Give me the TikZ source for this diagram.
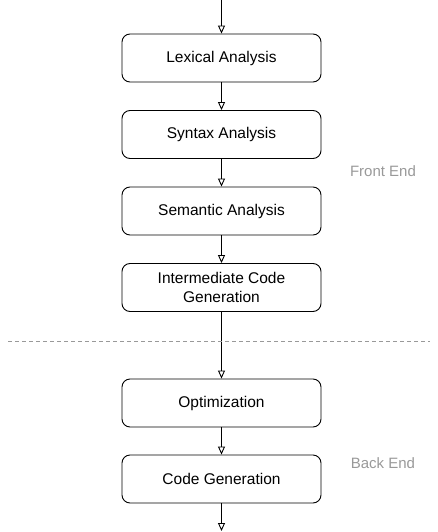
\documentclass[tikz,border=0pt]{standalone}
\usepackage{fontspec}
\setmainfont{Liberation Sans}
\usetikzlibrary{arrows.meta}
\begin{document}
\begin{tikzpicture}[x=1pt,y=-1pt,
  stage/.style={draw=black, line width=0.9pt, rounded corners=8pt, minimum width=199pt, minimum height=48pt, align=center, font=\fontsize{15.5}{19}\selectfont, inner sep=0pt},
  flow/.style={draw=black, line width=0.9pt, -{Triangle[open,length=8pt,width=7pt]}},
  side/.style={text=black!40, font=\fontsize{15}{18}\selectfont}]
\useasboundingbox (0,0) rectangle (438,532);
\node[stage] (lex) at (221.5,58) {Lexical Analysis};
\node[stage] (syn) at (221.5,134.5) {Syntax Analysis};
\node[stage] (sem) at (221.5,211) {Semantic Analysis};
\node[stage] (icg) at (221.5,287.5) {Intermediate Code\\Generation};
\node[stage] (opt) at (221.5,403) {Optimization};
\node[stage] (cg) at (221.5,479) {Code Generation};
\coordinate (top) at (221.5,0);
\coordinate (bot) at (221.5,531);
\draw[flow] (top) -- (lex);
\draw[flow] (lex) -- (syn);
\draw[flow] (syn) -- (sem);
\draw[flow] (sem) -- (icg);
\draw[flow] (icg) -- (opt);
\draw[flow] (opt) -- (cg);
\draw[flow] (cg) -- (bot);
\coordinate (dl) at (8,341);
\coordinate (dr) at (430,341);
\draw[black!40, line width=0.8pt, dash pattern=on 4pt off 3pt] (dl) -- (dr);
\node[side] (fe) at (383,171) {Front End};
\node[side] (be) at (383,463) {Back End};
\end{tikzpicture}
\end{document}
